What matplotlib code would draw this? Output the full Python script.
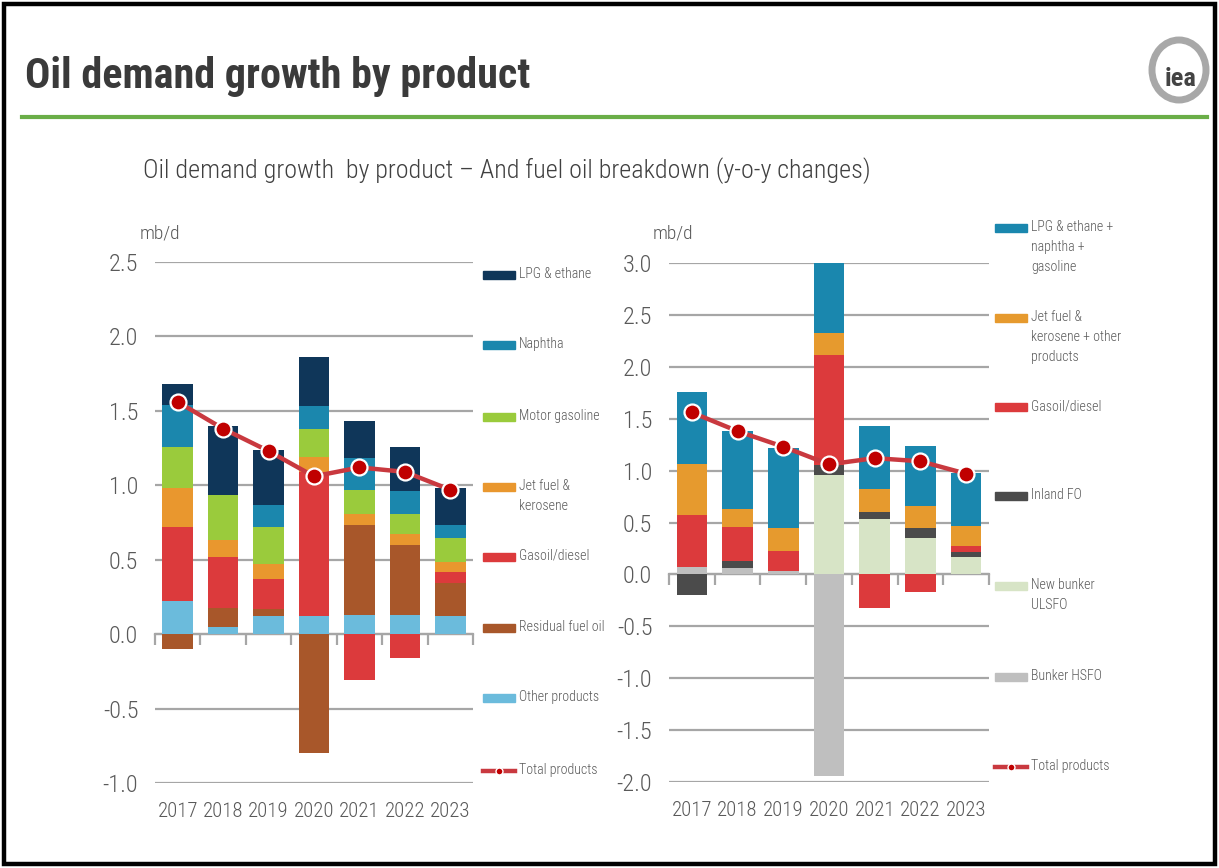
import numpy as np
import matplotlib
matplotlib.use('Agg')
import matplotlib.pyplot as plt
from matplotlib import font_manager
from matplotlib.patches import Rectangle, Ellipse
from matplotlib.lines import Line2D

# ---------------- data ----------------
years = ['2017', '2018', '2019', '2020', '2021', '2022', '2023']

# left chart: oil demand growth by product (mb/d)
left_labels = ['LPG & ethane', 'Naphtha', 'Motor gasoline', 'Jet fuel &\nkerosene',
               'Gasoil/diesel', 'Residual fuel oil', 'Other products']
lpg_ethane = [0.14, 0.46, 0.37, 0.33, 0.25, 0.30, 0.25]
naphtha = [0.28, 0.00, 0.15, 0.15, 0.21, 0.15, 0.09]
motor_gasoline = [0.28, 0.30, 0.25, 0.19, 0.16, 0.14, 0.16]
jet_kerosene = [0.26, 0.12, 0.10, 0.10, 0.08, 0.07, 0.07]
gasoil_diesel = [0.50, 0.34, 0.20, 0.97, -0.31, -0.16, 0.07]
residual_fuel_oil = [-0.10, 0.13, 0.05, -0.80, 0.60, 0.47, 0.22]
other_products = [0.22, 0.045, 0.12, 0.12, 0.13, 0.13, 0.125]
total_products = [1.56, 1.38, 1.23, 1.06, 1.12, 1.09, 0.97]

# right chart: fuel oil breakdown (mb/d)
right_labels = ['LPG & ethane +\nnaphtha +\ngasoline', 'Jet fuel &\nkerosene + other\nproducts',
                'Gasoil/diesel', 'Inland FO', 'New bunker\nULSFO', 'Bunker HSFO']
r_lpg_naphtha_gasoline = [0.70, 0.75, 0.77, 0.67, 0.61, 0.58, 0.51]
r_jet_other = [0.49, 0.17, 0.22, 0.22, 0.22, 0.21, 0.20]
r_gasoil = [0.50, 0.33, 0.20, 1.06, -0.32, -0.17, 0.05]
r_inland_fo = [-0.20, 0.07, 0.00, 0.09, 0.07, 0.10, 0.05]
r_ulsfo = [0.00, 0.00, 0.00, 0.96, 0.53, 0.35, 0.17]
r_hsfo = [0.07, 0.06, 0.03, -1.94, 0.00, 0.00, 0.00]

# ---------------- style ----------------
W, H = 1219, 868
names = {f.name for f in font_manager.fontManager.ttflist}
NARROW = next((n for n in ['Roboto Condensed', 'Liberation Sans Narrow', 'Open Sans Condensed',
                           'Liberation Sans'] if n in names), 'DejaVu Sans')
plt.rcParams['font.family'] = [NARROW, 'DejaVu Sans']
plt.rcParams['axes.unicode_minus'] = False

GRID = '#a6a6a6'
TXT = '#595959'
LINE_RED = '#c9393f'
MARK_RED = '#c00000'

left_colors = ['#0f3659', '#1b87ad', '#9acb3c', '#e9972e', '#dc3a3c', '#a8572a', '#6bbbdc']
right_colors = ['#1a87ae', '#e69a2e', '#dc3a3c', '#4b4b4b', '#d7e4c6', '#bfbfbf']

fig = plt.figure(figsize=(W / 100, H / 100), dpi=100)
fig.patch.set_facecolor('white')


def fx(px):
    return px / W


def fy(py):
    return 1 - py / H


def make_axes(x0, x1, y0, y1):
    return fig.add_axes([fx(x0), fy(y1), fx(x1) - fx(x0), (y1 - y0) / H])


def stacked(ax, series, colors):
    x = np.arange(len(years))
    pos = np.zeros(len(years))
    neg = np.zeros(len(years))
    for vals, c in zip(series, colors):
        v = np.asarray(vals, dtype=float)
        bottom = np.where(v >= 0, pos, neg)
        ax.bar(x, v, width=0.67, bottom=bottom, color=c, zorder=3, linewidth=0)
        pos += np.clip(v, 0, None)
        neg += np.clip(v, None, 0)
    ax.plot(x, total_products, color=LINE_RED, lw=3.2, zorder=4,
            marker='o', markersize=11.5, markerfacecolor=MARK_RED,
            markeredgecolor='white', markeredgewidth=1.6)


def style_axes(ax, ylo, yhi):
    ax.set_xlim(-0.5, len(years) - 0.5)
    ax.set_ylim(ylo, yhi)
    ax.set_yticks(np.arange(ylo, yhi + 0.01, 0.5))
    ax.yaxis.set_major_formatter('{x:.1f}')
    ax.yaxis.grid(True, color=GRID, lw=1.6, zorder=0)
    ax.set_axisbelow(True)
    for s in ['left', 'right', 'top']:
        ax.spines[s].set_visible(False)
    ax.spines['bottom'].set_position(('data', 0))
    ax.spines['bottom'].set_color(GRID)
    ax.spines['bottom'].set_linewidth(1.6)
    ax.spines['bottom'].set_zorder(2)
    ax.tick_params(axis='y', length=0, pad=12, labelsize=17.5, labelcolor=TXT)
    for t in ax.get_yticklabels():
        t.set_fontweight('light')
    ax.set_xticks(np.arange(len(years)))
    ax.set_xticklabels([])
    ax.set_xticks(np.arange(-0.5, len(years), 1.0), minor=True)
    ax.tick_params(axis='x', which='major', length=0)
    ax.tick_params(axis='x', which='minor', length=8, width=1.6, color=GRID, direction='out')
    sec = ax.secondary_xaxis('bottom')
    sec.set_xticks(np.arange(len(years)), labels=years)
    sec.spines['bottom'].set_visible(False)
    sec.tick_params(length=0, pad=14, labelsize=15, labelcolor=TXT)
    for t in sec.get_xticklabels():
        t.set_fontweight('light')


# ---------------- left chart ----------------
axL = make_axes(155, 473, 262, 783)
stacked(axL, [other_products, residual_fuel_oil, gasoil_diesel, jet_kerosene,
              motor_gasoline, naphtha, lpg_ethane], left_colors[::-1])
style_axes(axL, -1.0, 2.5)

# ---------------- right chart ----------------
axR = make_axes(669, 989, 263, 782)
stacked(axR, [r_hsfo, r_ulsfo, r_inland_fo, r_gasoil, r_jet_other, r_lpg_naphtha_gasoline],
        right_colors[::-1])
style_axes(axR, -2.0, 3.0)

# unit labels
fig.text(fx(140), fy(239), 'mb/d', fontsize=14, color=TXT, va='baseline', ha='left',
         fontweight='light')
fig.text(fx(653), fy(239), 'mb/d', fontsize=14, color=TXT, va='baseline', ha='left',
         fontweight='light')


# ---------------- legends ----------------
def legend(x0, ys, labels, colors):
    for y, lab, c in zip(ys, labels, colors):
        fig.add_artist(Rectangle((fx(x0), fy(y + 4)), fx(32), 8 / H, color=c,
                                 transform=fig.transFigure))
        fig.text(fx(x0 + 36), fy(y - 8), lab, fontsize=10, color=TXT, va='top', ha='left',
                 linespacing=1.55, fontweight='light')
    y = ys[-1]
    fig.add_artist(Line2D([fx(x0), fx(x0 + 32)], [fy(y), fy(y)], color=LINE_RED, lw=3.2,
                          transform=fig.transFigure))
    fig.add_artist(Line2D([fx(x0 + 16)], [fy(y)], color=MARK_RED, marker='o', markersize=5,
                          markeredgecolor='white', markeredgewidth=1.0,
                          transform=fig.transFigure))
    fig.text(fx(x0 + 36), fy(y - 8), 'Total products', fontsize=10, color=TXT,
             va='top', ha='left', fontweight='light')


legend(483, [275, 345, 417, 487, 557, 628, 698, 771], left_labels, left_colors)
legend(995, [228, 318, 407, 496, 586, 677, 767], right_labels, right_colors)

# ---------------- header ----------------
fig.canvas.draw()
renderer = fig.canvas.get_renderer()


def fit_text(x, y, s, target_w, size, **kw):
    t = fig.text(fx(x), fy(y), s, fontsize=size, va='baseline', ha='left', **kw)
    w = t.get_window_extent(renderer).width
    t.set_fontsize(size * target_w / w)
    return t


fit_text(25, 88, 'Oil demand growth by product', 505, 30, fontweight='bold', color='#3a3a3a')
fit_text(143, 178, 'Oil demand growth  by product \u2013 And fuel oil breakdown (y-o-y changes)',
         729, 18, color='#404040', fontweight='light')

fig.add_artist(Line2D([fx(22), fx(1207)], [fy(117), fy(117)], color='#6aae48', lw=3.0,
                      transform=fig.transFigure))

# IEA logo
fig.add_artist(Ellipse((fx(1179), fy(70)), fx(54), 60 / H, fill=False, edgecolor='#a8a8a8',
                       lw=5, transform=fig.transFigure))
fig.text(fx(1181), fy(79), 'iea', fontsize=19, fontweight='bold', color='#444444',
         ha='center', va='center')

# outer frame
fig.add_artist(Rectangle((fx(4), fy(864)), fx(1211), 860 / H, fill=False, edgecolor='black',
                         lw=3.2, transform=fig.transFigure))

fig.savefig('out.png', dpi=100, facecolor='white')
